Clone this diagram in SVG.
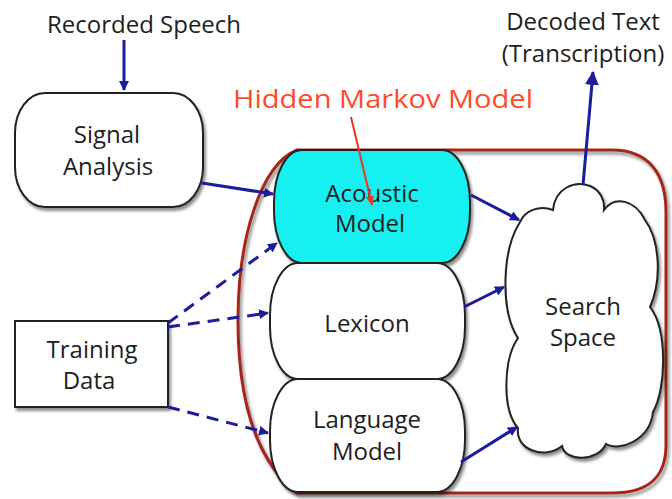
<svg xmlns="http://www.w3.org/2000/svg" width="672" height="499" viewBox="0 0 672 499">
<defs>
<filter id="sh" x="-10%" y="-10%" width="130%" height="130%">
<feDropShadow dx="2" dy="3" stdDeviation="1.5" flood-color="#000" flood-opacity="0.45"/>
</filter>
<marker id="ab" markerWidth="10" markerHeight="10" refX="9" refY="5" orient="auto" markerUnits="userSpaceOnUse" viewBox="0 0 10 10">
<path d="M0,0 L10,5 L0,10 Z" fill="#1c1c9c"/>
</marker>
<marker id="abig" markerWidth="14" markerHeight="14" refX="13" refY="7" orient="auto" markerUnits="userSpaceOnUse" viewBox="0 0 14 14">
<path d="M0,0 L14,7 L0,14 Z" fill="#1c1c9c"/>
</marker>
<marker id="ar" markerWidth="10" markerHeight="10" refX="9" refY="5" orient="auto" markerUnits="userSpaceOnUse" viewBox="0 0 10 10">
<path d="M0,1 L10,5 L0,9 Z" fill="#ee3322"/>
</marker>
</defs>
<style>
text{font-family:"Open Sans",Lato,"Liberation Sans",sans-serif;fill:#1e1e1e;text-anchor:middle;font-size:24px}
.node{stroke:#222;stroke-width:2}
.c{fill:none;stroke:#1c1c9c;stroke-width:3}
.d{fill:none;stroke:#1c1c9c;stroke-width:3;stroke-dasharray:12 8}
</style>
<rect width="672" height="499" fill="#fff"/>
<g id="container">
<path d="M297 150 L612 150 C650 150 666 175 666 212 L666 445 C666 478 648 493 612 493 L297 493 C255 460 238 400 238 320 C238 240 260 165 297 150 Z" fill="none" stroke="#a3281a" stroke-width="3" filter="url(#sh)"/>
</g>
<g id="recorded-speech"><text x="144" y="33">Recorded Speech</text></g>
<g id="decoded-text"><text x="583" y="30">Decoded Text</text><text x="583" y="62">(Transcription)</text></g>
<g id="signal-analysis">
<rect class="node" x="15" y="93" width="188" height="114" rx="30" ry="40" fill="#fff" filter="url(#sh)"/>
<text x="107" y="143">Signal</text><text x="108" y="175">Analysis</text>
</g>
<g id="training-data">
<rect class="node" x="15" y="321" width="153" height="86" fill="#fff" filter="url(#sh)"/>
<text x="92" y="358">Training</text><text x="89" y="389">Data</text>
</g>
<g id="acoustic-model">
<rect class="node" x="274" y="150" width="196" height="113" rx="28" ry="52" fill="#14f0f0" filter="url(#sh)"/>
<text x="372" y="202">Acoustic</text><text x="370" y="232">Model</text>
</g>
<g id="lexicon">
<rect class="node" x="270" y="263" width="195" height="116" rx="28" ry="52" fill="#fff" filter="url(#sh)"/>
<text x="367" y="332">Lexicon</text>
</g>
<g id="language-model">
<rect class="node" x="270" y="379" width="195" height="113" rx="28" ry="52" fill="#fff" filter="url(#sh)"/>
<text x="367" y="428">Language</text><text x="367" y="460">Model</text>
</g>
<g id="search-space">
<path class="node" fill="#fff" filter="url(#sh)" d="M520 222 C525 210 540 205 553 210 C555 188 575 180 590 186 C600 190 605 200 604 210 C615 195 635 200 645 220 C660 240 662 280 650 307 C668 330 666 390 653 412 C650 440 620 452 606 444 C598 462 565 462 562 446 C545 460 515 450 518 428 C502 410 503 360 518 338 C500 310 502 250 520 222 Z"/>
<text x="583" y="315">Search</text><text x="583" y="346">Space</text>
</g>
<g id="hmm-label"><text x="383" y="108" textLength="300" lengthAdjust="spacingAndGlyphs" style="fill:#ff4a2a;font-size:26px">Hidden Markov Model</text></g>
<g id="connectors">
<line class="c" x1="124" y1="40" x2="124" y2="90" marker-end="url(#ab)"/>
<line class="c" x1="202" y1="183" x2="273" y2="194" marker-end="url(#ab)"/>
<line class="c" x1="471" y1="195" x2="519" y2="220" marker-end="url(#ab)"/>
<line class="c" x1="464" y1="307" x2="504" y2="287" marker-end="url(#ab)"/>
<line class="c" x1="461" y1="462" x2="517" y2="427" marker-end="url(#ab)"/>
<line class="c" x1="583" y1="185" x2="593" y2="72" stroke-width="4" marker-end="url(#abig)"/>
<line class="d" x1="168" y1="323" x2="277" y2="243" marker-end="url(#ab)"/>
<line class="d" x1="168" y1="327" x2="268" y2="313" marker-end="url(#ab)"/>
<line class="d" x1="168" y1="407" x2="268" y2="433" marker-end="url(#ab)"/>
<line x1="351" y1="117" x2="372" y2="205" stroke="#ee3322" stroke-width="2" marker-end="url(#ar)"/>
</g>
</svg>
